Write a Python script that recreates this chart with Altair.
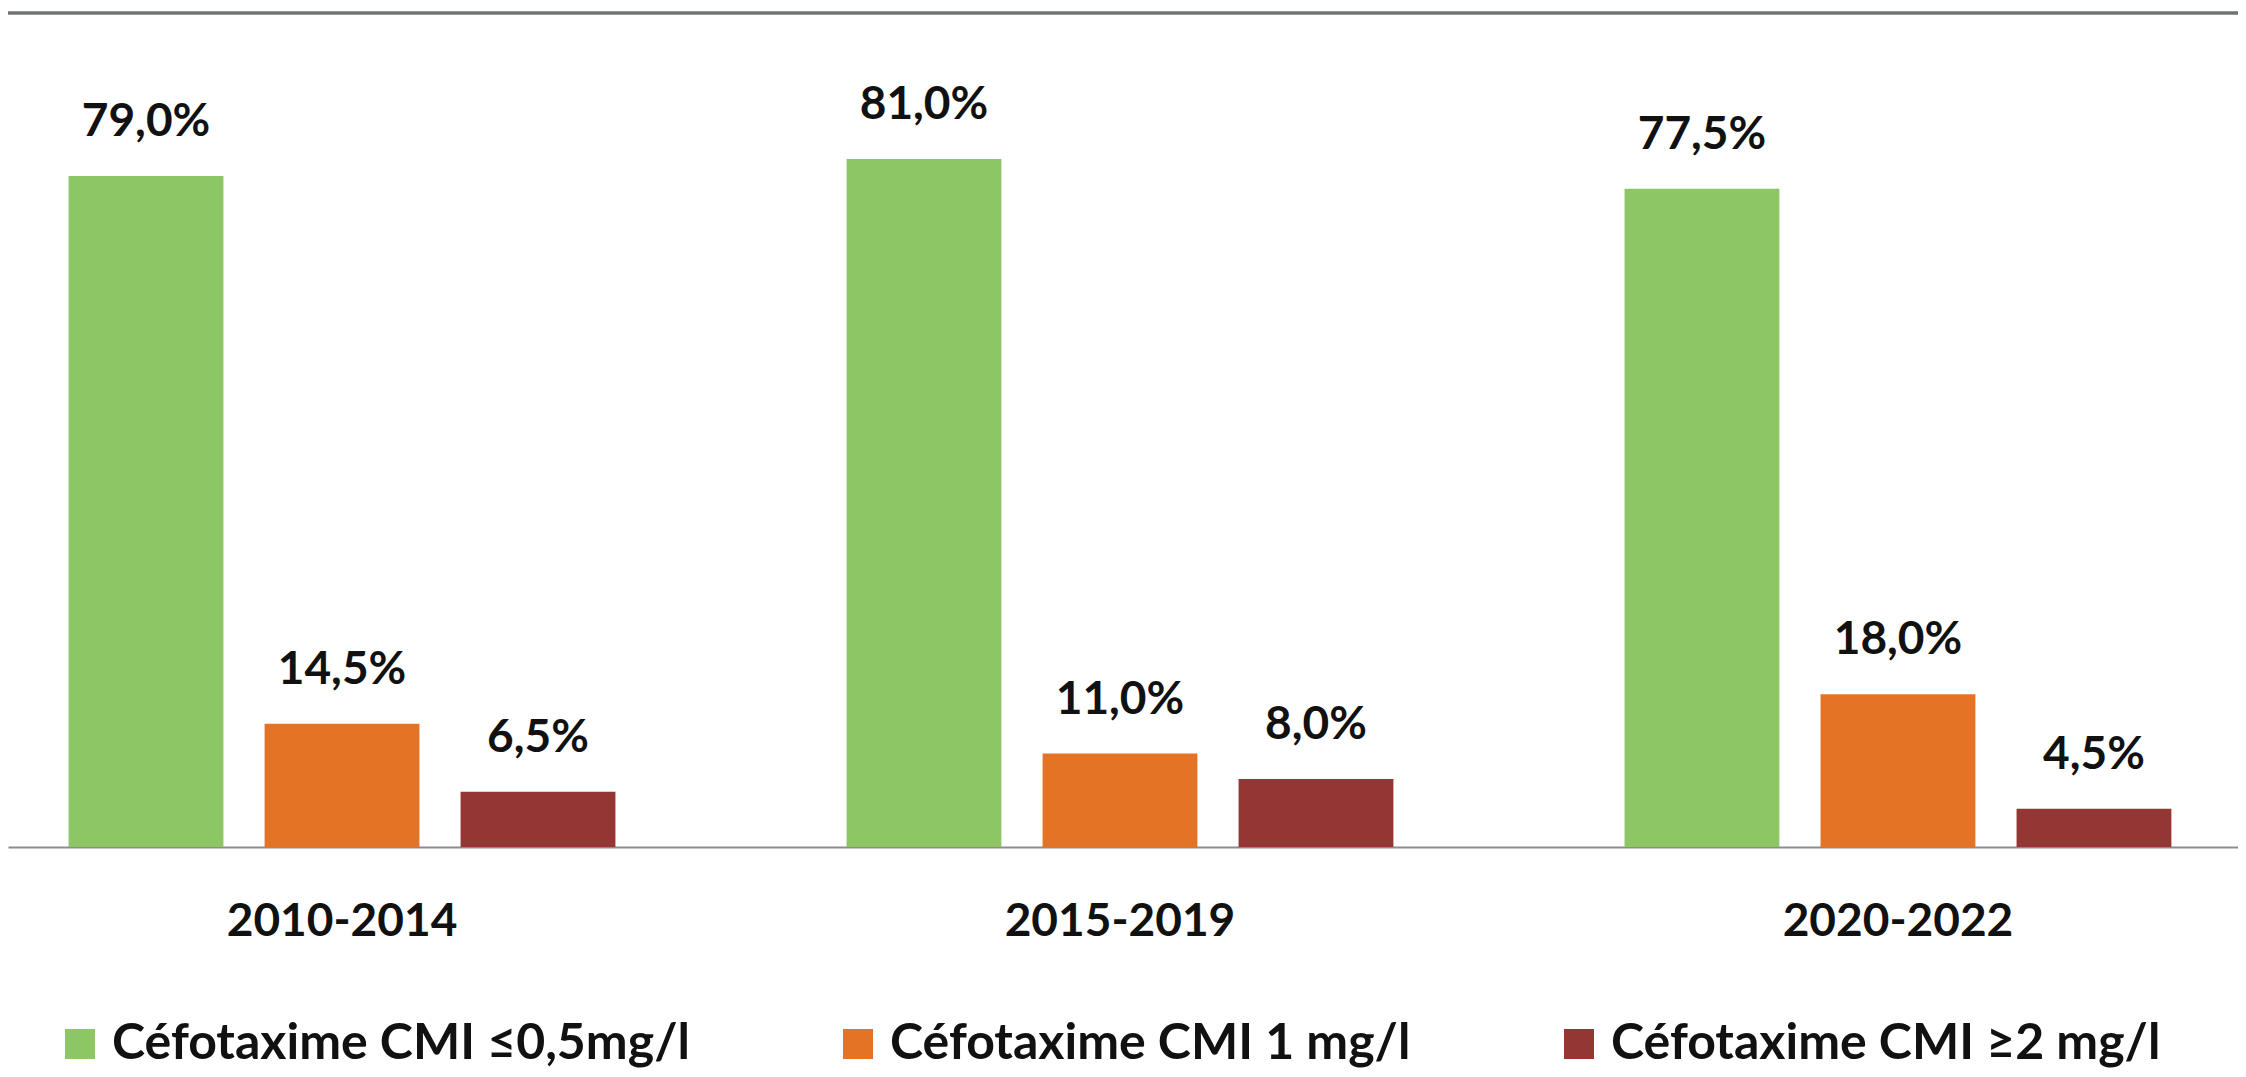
import altair as alt
import pandas as pd

periods = ["2010-2014", "2015-2019", "2020-2022"]
series = ["Céfotaxime CMI ≤0,5mg/l", "Céfotaxime CMI 1 mg/l", "Céfotaxime CMI ≥2 mg/l"]
cmi_low = [79.0, 81.0, 77.5]
cmi_mid = [14.5, 11.0, 18.0]
cmi_high = [6.5, 8.0, 4.5]
colors = ["#8CC665", "#E57325", "#943634"]

rows = []
for s, vals in zip(series, [cmi_low, cmi_mid, cmi_high]):
    for p, v in zip(periods, vals):
        rows.append({"period": p, "series": s, "value": v,
                     "label": f"{v:.1f}".replace(".", ",") + "%"})
df = pd.DataFrame(rows)

FONT = "Lato"
W, H = 2230, 834

x = alt.X("period:N", sort=periods, title=None,
          scale=alt.Scale(paddingInner=0.2442, paddingOuter=0.0553, align=0.465),
          axis=alt.Axis(labelAngle=0, labelFont=FONT, labelFontWeight="bold",
                        labelFontSize=46, labelColor="#111111", labelPadding=88,
                        labelBaseline="alphabetic", labelLimit=1000,
                        ticks=False, tickSize=0,
                        domainColor="#8c8c8c", domainWidth=2, grid=False))
xo = alt.XOffset("series:N", sort=series,
                 scale=alt.Scale(paddingInner=0.21, paddingOuter=0.105))
y = alt.Y("value:Q", scale=alt.Scale(domain=[0, 98.2], nice=False, zero=True), axis=None)

bars = alt.Chart(df).mark_bar().encode(
    x=x, xOffset=xo, y=y,
    color=alt.Color("series:N", sort=series,
                    scale=alt.Scale(domain=series, range=colors),
                    legend=alt.Legend(orient="none", legendX=47, legendY=1006,
                                      direction="horizontal", columns=3, title=None,
                                      symbolType="square", symbolSize=900,
                                      symbolStrokeWidth=0, symbolOpacity=1,
                                      labelFont=FONT, labelFontWeight="bold",
                                      labelFontSize=50, labelColor="#111111",
                                      labelOffset=7, columnPadding=143,
                                      labelLimit=0, padding=0)),
)

labels = alt.Chart(df).mark_text(
    dy=-40, baseline="alphabetic", align="center", font=FONT,
    fontWeight="bold", fontSize=46, color="#111111"
).encode(x=x, xOffset=xo, y=y, text="label:N")

top_line = alt.Chart(pd.DataFrame({"k": [0]})).mark_rule(
    color="#6f7473", strokeWidth=3.5
).encode(y=alt.value(0), x=alt.value(-8), x2=alt.value(W + 8))

chart = alt.layer(bars, labels, top_line).properties(
    width=W, height=H,
    padding={"left": 0, "top": 5, "right": 0, "bottom": 222},
    autosize=alt.AutoSizeParams(type="none"),
    background="white",
).configure_view(stroke=None)

chart.save("out.html", embed_options={"renderer": "svg", "actions": False})
